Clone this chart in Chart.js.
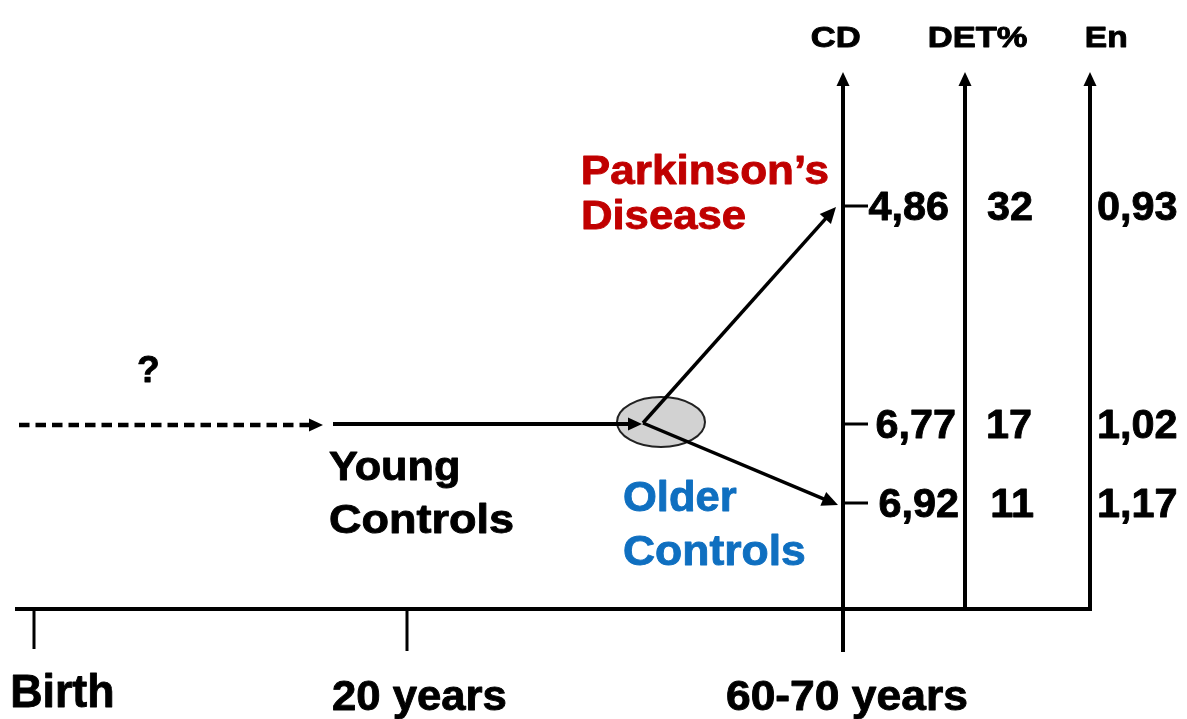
<!DOCTYPE html>
<html>
<head>
<meta charset="utf-8">
<script src="https://cdn.jsdelivr.net/npm/chart.js@4.4.1/dist/chart.umd.min.js"></script>
<style>
  html, body { margin: 0; padding: 0; background: #ffffff; }
  #wrap { width: 1187px; height: 719px; position: relative; }
</style>
</head>
<body>
<div id="wrap"><canvas id="c"></canvas></div>
<script>
// ---------------- DATA ----------------
const groups    = ["Parkinson’s Disease", "Young Controls", "Older Controls"];
const cdValues  = [4.86, 6.77, 6.92];
const detValues = [32, 17, 11];
const enValues  = [0.93, 1.02, 1.17];
const measures  = ["CD", "DET%", "En"];
const timeline  = ["Birth", "20 years", "60-70 years"];
const unknownLabel = "?";

// ---------------- LAYOUT (diagram units, schematic) ----------------
const W = 1187, H = 719;
const FONT = "'Liberation Sans', Arial, Helvetica, sans-serif";
const RED = "#c00000", BLUE = "#0f6fc0";
const L = {
  rowY: [206, 424, 503],            // Parkinson, Young, Older
  axisX: [843, 965, 1090],          // CD, DET%, En
  axisTop: 72,
  baseY: 609, baseLeft: 15,
  timeX: [34, 407, 843],
  timeTickBottom: [649, 651, 652],
  rowTickEnd: 868,
  dashStart: 19, dashTip: 323, youngStart: 333, nodeTip: 642,
  node: { x: 661, y: 422, rx: 44, ry: 25 },
  branch: { x: 643, y: 423 },
  headerBase: 47, headerCap: 20,
  headerLeft: [812, 929, 1086], headerWidth: [48, 98, 40],
  valueCap: 29, valueDrop: 14,
  cdRight: [948, 955, 958], detRight: [1032, 1031, 1033], enLeft: [1098, 1099, 1099],
  groupLabels: [
    { lines: [[583, 184, 29, 245], [583, 229, 29, 162]], color: RED },
    { lines: [[329, 480, 29, 129], [330, 533, 29, 183]], color: "#000" },
    { lines: [[624, 511, 30, 113], [624, 565, 30, 181]], color: BLUE }
  ],
  timeLabels: [[13, 707, 33, 99], [333, 710, 30, 173], [727, 710, 30, 240]],
  question: [138, 382, 26]
};

function fmtComma(v, d) { return v.toFixed(d).replace('.', ','); }

// ---------------- SEGMENTS ----------------
const segs = [];
segs.push({ from: [L.baseLeft, L.baseY], to: [L.axisX[2] + 2, L.baseY], w: 4 });
segs.push({ from: [L.axisX[0], L.timeTickBottom[2]], to: [L.axisX[0], L.axisTop], w: 4, arrow: true });
segs.push({ from: [L.axisX[1], L.baseY + 2], to: [L.axisX[1], L.axisTop], w: 4, arrow: true });
segs.push({ from: [L.axisX[2], L.baseY + 2], to: [L.axisX[2], L.axisTop], w: 4, arrow: true });
for (let i = 0; i < 2; i++) segs.push({ from: [L.timeX[i], L.baseY], to: [L.timeX[i], L.timeTickBottom[i]], w: 3 });
L.rowY.forEach(y => segs.push({ from: [L.axisX[0], y], to: [L.rowTickEnd, y], w: 3 }));
segs.push({ from: [L.dashStart, L.rowY[1] + 1], to: [L.dashTip, L.rowY[1] + 1], w: 4.5, dash: [10.5, 6], arrow: true });
segs.push({ from: [L.youngStart, L.rowY[1]], to: [L.nodeTip, L.rowY[1]], w: 4, arrow: true });
segs.push({ from: [L.branch.x, L.branch.y], to: [L.axisX[0] - 7, L.rowY[0] + 1], w: 3.5, arrow: true, big: true });
segs.push({ from: [L.branch.x, L.branch.y], to: [L.axisX[0] - 5, L.rowY[2] + 2], w: 3.5, arrow: true, big: true });

const HEAD_LEN = 14, HEAD_HALF = 6.5;

const datasets = segs.map(s => {
  let end = s.to;
  if (s.arrow) {
    const dx = s.to[0] - s.from[0], dy = s.to[1] - s.from[1];
    const len = Math.hypot(dx, dy);
    end = [s.to[0] - dx / len * HEAD_LEN * 0.8, s.to[1] - dy / len * HEAD_LEN * 0.8];
  }
  return {
    data: [{ x: s.from[0], y: s.from[1] }, { x: end[0], y: end[1] }],
    showLine: true, borderColor: '#000', backgroundColor: '#000',
    borderWidth: s.w, borderDash: s.dash || [], borderCapStyle: 'butt',
    pointRadius: 0, pointHoverRadius: 0, fill: false, tension: 0, clip: false
  };
});

// ---------------- DRAWING PLUGIN ----------------
let capRatio = 0.716;
function drawLabel(chart, o) {
  const ctx = chart.ctx;
  const xs = chart.scales.x, ys = chart.scales.y;
  const size = o.cap / capRatio;
  ctx.save();
  ctx.font = `bold ${size}px ${FONT}`;
  const m = ctx.measureText(o.text);
  const inkL = m.actualBoundingBoxLeft, inkR = m.actualBoundingBoxRight;
  const inkW = inkL + inkR;
  const sx = o.width ? o.width / inkW : 1;
  const px = xs.getPixelForValue(o.x), py = ys.getPixelForValue(o.y);
  const x0 = o.anchor === 'right' ? px - inkR * sx : px + inkL * sx;
  ctx.translate(x0, py);
  ctx.scale(sx, 1);
  ctx.fillStyle = o.color || '#000';
  ctx.strokeStyle = o.color || '#000';
  ctx.lineWidth = 0.9;
  ctx.lineJoin = 'round';
  ctx.textAlign = 'left';
  ctx.textBaseline = 'alphabetic';
  ctx.fillText(o.text, 0, 0);
  ctx.strokeText(o.text, 0, 0);
  ctx.restore();
}

const diagram = {
  id: 'diagram',
  beforeDatasetsDraw(chart) {
    const ctx = chart.ctx, xs = chart.scales.x, ys = chart.scales.y;
    const n = L.node;
    const cx = xs.getPixelForValue(n.x), cy = ys.getPixelForValue(n.y);
    const rx = Math.abs(xs.getPixelForValue(n.x + n.rx) - cx);
    const ry = Math.abs(ys.getPixelForValue(n.y + n.ry) - cy);
    ctx.save();
    ctx.beginPath();
    ctx.ellipse(cx, cy, rx, ry, 0, 0, Math.PI * 2);
    ctx.fillStyle = '#d2d2d2';
    ctx.fill();
    ctx.lineWidth = 2;
    ctx.strokeStyle = '#222';
    ctx.stroke();
    ctx.restore();
  },
  afterDatasetsDraw(chart) {
    const ctx = chart.ctx, xs = chart.scales.x, ys = chart.scales.y;
    ctx.save();
    ctx.font = `bold 100px ${FONT}`;
    capRatio = ctx.measureText('H').actualBoundingBoxAscent / 100 || 0.716;
    ctx.restore();

    // arrowheads
    segs.filter(s => s.arrow).forEach(s => {
      const fx = xs.getPixelForValue(s.from[0]), fy = ys.getPixelForValue(s.from[1]);
      const tx = xs.getPixelForValue(s.to[0]), ty = ys.getPixelForValue(s.to[1]);
      const a = Math.atan2(ty - fy, tx - fx);
      const hl = s.big ? HEAD_LEN + 2 : HEAD_LEN, hh = s.big ? HEAD_HALF + 1 : HEAD_HALF;
      ctx.save();
      ctx.translate(tx, ty);
      ctx.rotate(a);
      ctx.beginPath();
      ctx.moveTo(0, 0);
      ctx.lineTo(-hl, -hh);
      ctx.lineTo(-hl, hh);
      ctx.closePath();
      ctx.fillStyle = '#000';
      ctx.fill();
      ctx.restore();
    });

    // headers
    measures.forEach((t, i) => drawLabel(chart, {
      text: t, x: L.headerLeft[i], y: L.headerBase, cap: L.headerCap, width: L.headerWidth[i]
    }));

    // values
    L.rowY.forEach((y, i) => {
      const base = y + L.valueDrop;
      drawLabel(chart, { text: fmtComma(cdValues[i], 2), x: L.cdRight[i], y: base, cap: L.valueCap, anchor: 'right' });
      drawLabel(chart, { text: String(detValues[i]), x: L.detRight[i], y: base, cap: L.valueCap, anchor: 'right' });
      drawLabel(chart, { text: fmtComma(enValues[i], 2), x: L.enLeft[i], y: base, cap: L.valueCap });
    });

    // group labels
    groups.forEach((g, i) => {
      const parts = g.split(' ');
      const gl = L.groupLabels[i];
      parts.forEach((p, j) => {
        const [x, y, cap, w] = gl.lines[j];
        drawLabel(chart, { text: p, x, y, cap, width: w, color: gl.color });
      });
    });

    // timeline labels
    timeline.forEach((t, i) => {
      const [x, y, cap, w] = L.timeLabels[i];
      drawLabel(chart, { text: t, x, y, cap, width: w });
    });

    // unknown origin
    drawLabel(chart, { text: unknownLabel, x: L.question[0], y: L.question[1], cap: L.question[2] });
  }
};

new Chart(document.getElementById('c'), {
  type: 'scatter',
  data: { datasets },
  options: {
    responsive: true,
    maintainAspectRatio: false,
    animation: false,
    events: [],
    layout: { padding: 0 },
    plugins: { legend: { display: false }, tooltip: { enabled: false }, title: { display: false } },
    scales: {
      x: { type: 'linear', min: 0, max: W, display: false },
      y: { type: 'linear', min: 0, max: H, reverse: true, display: false }
    }
  },
  plugins: [diagram]
});
</script>
</body>
</html>
